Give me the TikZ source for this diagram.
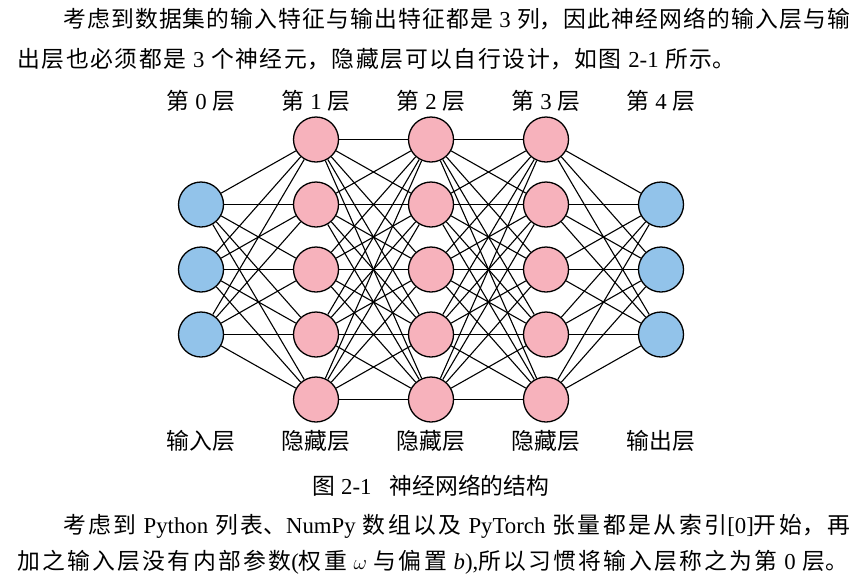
\documentclass[tikz,border=0pt]{standalone}
\usepackage{fontspec}
\setmainfont{Liberation Serif}
\newfontfamily\cjk{Noto Sans CJK SC}
\XeTeXlinebreaklocale "zh"
\XeTeXlinebreakskip=0pt plus 6pt
\newcommand{\C}[1]{{\cjk #1}}
\newcommand{\jline}[2]{\parbox{#1pt}{\parindent=0pt\parfillskip=0pt\relax #2}}
\definecolor{inblue}{RGB}{146,195,234}
\definecolor{hidpink}{RGB}{247,178,188}
\begin{document}
\begin{tikzpicture}[x=1pt,y=-1pt,
  txt/.style={font=\fontsize{22.8}{27}\selectfont, inner sep=0pt},
  neuron/.style={circle, draw=black, line width=1.3pt, minimum size=45pt, inner sep=0pt},
  innode/.style={neuron, fill=inblue},
  hidnode/.style={neuron, fill=hidpink},
  link/.style={line width=1.1pt, black}]
\useasboundingbox (0,0) rectangle (864,587);
% paragraph above
\node[txt, anchor=west] (p1) at (63,19) {\jline{787}{\C{考虑到数据集的输入特征与输出特征都是} 3 \C{列，因此神经网络的输入层与输}}};
\node[txt, anchor=west] (p2) at (17,59) {\jline{718}{\C{出层也必须都是} 3 \C{个神经元，隐藏层可以自行设计，如图} 2-1 \C{所示。}}};
% layer titles
\foreach \i/\x in {0/201,1/316,2/431,3/546,4/661}{
  \node[txt] (t\i) at (\x,101) {\C{第} \i{} \C{层}};
}
% neurons
\foreach \j/\y in {1/204.5,2/269.5,3/334.5}{
  \node[innode] (a\j) at (201,\y) {};
  \node[innode] (e\j) at (661,\y) {};
}
\foreach \j/\y in {1/139.5,2/204.5,3/269.5,4/334.5,5/399.5}{
  \node[hidnode] (b\j) at (316,\y) {};
  \node[hidnode] (c\j) at (431,\y) {};
  \node[hidnode] (d\j) at (546,\y) {};
}
% connections
\foreach \i in {1,2,3}{\foreach \j in {1,...,5}{
  \draw[link] (a\i) -- (b\j);
  \draw[link] (d\j) -- (e\i);
}}
\foreach \i in {1,...,5}{\foreach \j in {1,...,5}{
  \draw[link] (b\i) -- (c\j);
  \draw[link] (c\i) -- (d\j);
}}
% bottom labels
\node[txt] (l0) at (201,441) {\C{输入层}};
\node[txt] (l1) at (316,441) {\C{隐藏层}};
\node[txt] (l2) at (431,441) {\C{隐藏层}};
\node[txt] (l3) at (546,441) {\C{隐藏层}};
\node[txt] (l4) at (661,441) {\C{输出层}};
% caption
\node[txt] (cap) at (431,486) {\C{图} 2-1\hspace{0.8em}\C{神经网络的结构}};
% paragraph below
\node[txt, anchor=west] (q1) at (63,526) {\jline{787}{\C{考虑到} Python \C{列表、}NumPy \C{数组以及} PyTorch \C{张量都是从索引}[0]\C{开始，再}}};
\node[txt, anchor=west] (q2) at (17,562) {\jline{831}{\C{加之输入层没有内部参数}(\C{权重} $\omega$ \C{与偏置} \textit{b}),\C{所以习惯将输入层称之为第} 0 \C{层。}}};
\end{tikzpicture}
\end{document}
